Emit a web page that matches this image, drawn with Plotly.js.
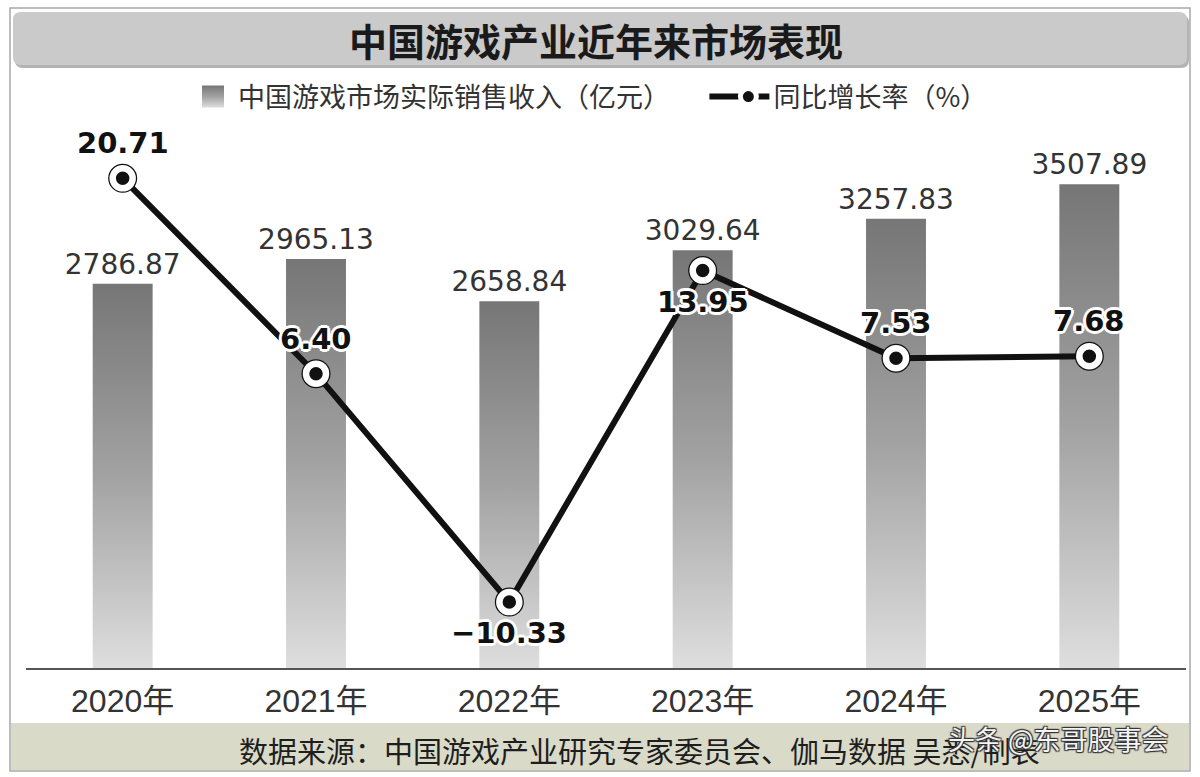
<!DOCTYPE html>
<html>
<head>
<meta charset="utf-8">
<script src="https://cdn.plot.ly/plotly-3.0.1.min.js"></script>
<style>
html,body{margin:0;padding:0;background:#fff;}
#chart{width:1200px;height:777px;}
</style>
</head>
<body>
<div id="chart"></div>
<script>
// ---- data ----
const years = ['2020年', '2021年', '2022年', '2023年', '2024年', '2025年'];
const revenue = [2786.87, 2965.13, 2658.84, 3029.64, 3257.83, 3507.89];
const growth = [20.71, 6.40, -10.33, 13.95, 7.53, 7.68];
const growthLabelSide = ['above', 'above', 'below', 'below', 'above', 'above'];
const revenueName = '中国游戏市场实际销售收入（亿元）';
const growthName = '同比增长率（%）';
const titleText = '中国游戏产业近年来市场表现';
const sourceText = '数据来源：中国游戏产业研究专家委员会、伽马数据 吴悉/制表';
const watermarkText = '头条 @东哥股事会';

// ---- geometry helpers (page pixels -> paper coords) ----
const W = 1200, H = 777;
const M = {l: 26, r: 14, t: 120, b: 109};
const PW = W - M.l - M.r, PH = H - M.t - M.b;
const px = x => (x - M.l) / PW;
const py = y => (H - M.b - y) / PH;

function roundRect(x0, y0, x1, y1, r) {
  const rx = r / PW, ry = r / PH;
  const X0 = px(x0), X1 = px(x1), Yt = py(y0), Yb = py(y1);
  return `M${X0 + rx},${Yt} L${X1 - rx},${Yt} Q${X1},${Yt} ${X1},${Yt - ry} L${X1},${Yb + ry} Q${X1},${Yb} ${X1 - rx},${Yb} L${X0 + rx},${Yb} Q${X0},${Yb} ${X0},${Yb + ry} L${X0},${Yt - ry} Q${X0},${Yt} ${X0 + rx},${Yt} Z`;
}

const halo = [[2,0],[-2,0],[0,2],[0,-2],[2,2],[-2,-2],[2,-2],[-2,2],[3,0],[-3,0],[0,3],[0,-3]]
  .map(d => `${d[0]}px ${d[1]}px 0 #ffffff`).join(', ');

const NBSP = '\u00a0';

const traces = [
  {
    type: 'bar',
    name: revenueName + NBSP.repeat(8),
    x: years,
    y: revenue,
    marker: {color: '#999999'},
    text: revenue.map(v => v.toFixed(2)),
    textposition: 'outside',
    constraintext: 'none',
    cliponaxis: false,
    textfont: {family: 'DejaVu Sans', size: 28, color: '#333333'},
    hoverinfo: 'none'
  },
  {
    type: 'scatter',
    mode: 'markers',
    x: years,
    y: growth,
    yaxis: 'y2',
    showlegend: false,
    marker: {size: 29, color: '#111111'},
    hoverinfo: 'none',
    cliponaxis: false
  },
  {
    type: 'scatter',
    mode: 'lines+markers',
    name: growthName,
    x: years,
    y: growth,
    yaxis: 'y2',
    line: {color: '#111111', width: 6},
    marker: {size: 20, color: '#111111', line: {color: '#ffffff', width: 6.5}},
    cliponaxis: false,
    hoverinfo: 'none'
  }
];

const growthAnnotations = growth.map((v, i) => ({
  x: years[i], y: v, xref: 'x', yref: 'y2',
  text: v.toFixed(2).replace('-', '−'),
  showarrow: false, xanchor: 'center', yanchor: 'middle',
  yshift: growthLabelSide[i] === 'above' ? 35 : -31,
  font: {family: 'DejaVu Sans', size: 29, color: '#111111', weight: 'bold', shadow: halo}
}));

const layout = {
  width: W, height: H, autosize: false,
  margin: M,
  paper_bgcolor: '#ffffff',
  plot_bgcolor: '#ffffff',
  font: {family: 'Noto Sans CJK SC, sans-serif', color: '#222'},
  bargap: 0.69,
  showlegend: true,
  legend: {
    orientation: 'h', x: px(188), xanchor: 'left', y: py(97), yanchor: 'middle',
    font: {family: 'Noto Sans CJK SC', size: 27, color: '#333'},
    bgcolor: 'rgba(0,0,0,0)', itemwidth: 40, traceorder: 'normal'
  },
  xaxis: {
    type: 'category', range: [-0.5, 5.5], fixedrange: true,
    showline: true, linecolor: '#555555', linewidth: 2,
    ticks: '', showgrid: false, zeroline: false,
    tickfont: {family: 'Liberation Sans, Noto Sans CJK SC', size: 32, color: '#333333'},
    ticklabelstandoff: 4
  },
  yaxis: {
    range: [0, 3974], visible: false, showgrid: false, zeroline: false, fixedrange: true
  },
  yaxis2: {
    range: [-15.16, 24.98], overlaying: 'y', side: 'right',
    visible: false, showgrid: false, zeroline: false, fixedrange: true
  },
  shapes: [
    {type: 'rect', xref: 'paper', yref: 'paper', layer: 'below',
     x0: px(10), x1: px(1190), y0: py(771), y1: py(8),
     line: {color: '#a8a8a8', width: 1.5}, fillcolor: 'rgba(0,0,0,0)'},
    {type: 'path', xref: 'paper', yref: 'paper', layer: 'below',
     path: roundRect(15, 15, 1189, 68, 8), fillcolor: '#b3b3b3', line: {width: 0}},
    {type: 'path', xref: 'paper', yref: 'paper', layer: 'below',
     path: roundRect(13, 12, 1187, 65, 8), fillcolor: '#cacaca', line: {width: 0}},
    {type: 'rect', xref: 'paper', yref: 'paper', layer: 'below',
     x0: px(11), x1: px(1189), y0: py(770), y1: py(723),
     fillcolor: '#dadac9', line: {width: 0}}
  ],
  annotations: [
    {text: titleText, xref: 'paper', yref: 'paper', x: px(596), y: py(39),
     xanchor: 'center', yanchor: 'middle', showarrow: false,
     font: {family: 'Noto Sans CJK SC', size: 38, color: '#1a1a1a', weight: 'bold'}},
    {text: sourceText, xref: 'paper', yref: 'paper', x: px(639), y: py(750),
     xanchor: 'center', yanchor: 'middle', showarrow: false,
     font: {family: 'Noto Sans CJK SC', size: 29, color: '#1e1e1e'}},
    {text: watermarkText, xref: 'paper', yref: 'paper', x: px(1058), y: py(738),
     xanchor: 'center', yanchor: 'middle', showarrow: false,
     font: {family: 'Noto Sans CJK SC', size: 27, color: '#f4f4f4',
            shadow: '1px 1px 1px #333, -1px -1px 1px #333, 1px -1px 1px #333, -1px 1px 1px #333'}}
  ].concat(growthAnnotations)
};

Plotly.newPlot('chart', traces, layout, {displayModeBar: false, staticPlot: true}).then(gd => {
  const svg = gd.querySelector('svg.main-svg');
  const NS = 'http://www.w3.org/2000/svg';
  let defs = svg.querySelector('defs');
  if (!defs) { defs = document.createElementNS(NS, 'defs'); svg.insertBefore(defs, svg.firstChild); }
  const grad = document.createElementNS(NS, 'linearGradient');
  grad.setAttribute('id', 'barGrad');
  grad.setAttribute('x1', '0'); grad.setAttribute('y1', '0');
  grad.setAttribute('x2', '0'); grad.setAttribute('y2', '1');
  [['0', '#767676'], ['0.5', '#a2a2a2'], ['1', '#dedede']].forEach(s => {
    const st = document.createElementNS(NS, 'stop');
    st.setAttribute('offset', s[0]); st.setAttribute('stop-color', s[1]);
    grad.appendChild(st);
  });
  defs.appendChild(grad);
  gd.querySelectorAll('.barlayer .point path').forEach(p => { p.style.fill = 'url(#barGrad)'; });
  const legendTraces = gd.querySelectorAll('.legend .traces');
  if (legendTraces.length) {
    legendTraces[0].querySelectorAll('.legendpoints path').forEach(p => {
      p.setAttribute('d', 'M11,11H-11V-11H11Z');
      p.style.fill = 'url(#barGrad)';
      p.style.stroke = 'none';
    });
  }
  if (legendTraces.length > 1) {
    legendTraces[1].querySelectorAll('.legendlines path').forEach(p => {
      p.setAttribute('d', 'M-14,0h60');
    });
  }
});
</script>
</body>
</html>
